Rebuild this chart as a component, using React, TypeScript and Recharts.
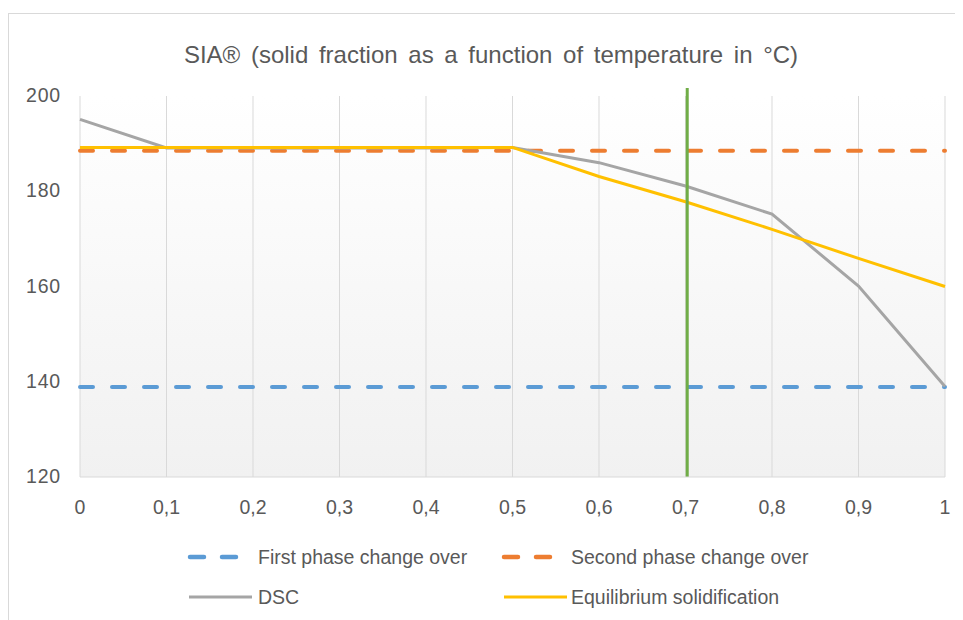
import React from 'react';
import { LineChart, Line, XAxis, YAxis, CartesianGrid, ReferenceLine } from 'recharts';

const xTicks = [0, 0.1, 0.2, 0.3, 0.4, 0.5, 0.6, 0.7, 0.8, 0.9, 1];
const yTicks = [120, 140, 160, 180, 200];

const firstPhaseX = [0, 1];
const firstPhaseY = [138.9, 138.9];
const secondPhaseX = [0, 1];
const secondPhaseY = [188.5, 188.5];

const dscX = [0, 0.1, 0.2, 0.3, 0.4, 0.5, 0.6, 0.7, 0.8, 0.9, 1];
const dscY = [195.1, 189.1, 189.1, 189.1, 189.1, 189.2, 186, 181.1, 175.2, 160.1, 139];

const eqX = [0, 0.1, 0.2, 0.3, 0.4, 0.5, 0.6, 0.7, 0.8, 0.9, 1];
const eqY = [189.2, 189.2, 189.2, 189.2, 189.2, 189.2, 183.1, 177.8, 172, 165.9, 160];

const markerX = 0.702;
const markerYBottom = 120;
const markerYTop = 201.7;

const title = 'SIA® (solid fraction as a function of temperature in °C)';
const legendNames = ['First phase change over', 'Second phase change over', 'DSC', 'Equilibrium solidification'];

const toPts = (xs: number[], ys: number[]) => xs.map((x, i) => ({ x, y: ys[i] }));

const FONT = '"Liberation Sans", Arial, sans-serif';
const TXT = '#595959';

const COLORS = {
  first: '#5b9bd5',
  second: '#ed7d31',
  dsc: '#a5a5a5',
  eq: '#ffc000',
  marker: '#70ad47',
};

const XTick = (props: any) => {
  const { x, y, payload } = props;
  return (
    <text x={x} y={y + 6} textAnchor="middle" dominantBaseline="central" fill={TXT} fontSize={19.5} fontFamily={FONT}>
      {String(payload.value).replace('.', ',')}
    </text>
  );
};

const YTick = (props: any) => {
  const { x, y, payload } = props;
  return (
    <text x={x} y={y - 1} textAnchor="end" dominantBaseline="central" fill={TXT} fontSize={19.5} fontFamily={FONT} letterSpacing={0.8}>
      {payload.value}
    </text>
  );
};

export default function App() {
  return (
    <div style={{ position: 'relative', width: 955, height: 612, fontFamily: FONT }}>
      <div
        style={{
          position: 'absolute',
          left: 0,
          top: 5,
          width: 954,
          height: 606,
          borderTop: '1px solid #d9d9d9',
          borderLeft: '1px solid #d9d9d9',
        }}
      />
      <LineChart
        width={955}
        height={612}
        margin={{ top: 88, right: 18, bottom: 113, left: 12 }}
        style={{ position: 'absolute', left: 0, top: 0 }}
      >
        <defs>
          <linearGradient id="plotBg" x1="0" y1="0" x2="0" y2="1">
            <stop offset="0%" stopColor="#ffffff" />
            <stop offset="100%" stopColor="#f1f1f1" />
          </linearGradient>
        </defs>
        <CartesianGrid horizontal={false} vertical={true} stroke="#d9d9d9" fill="url(#plotBg)" />
        <XAxis
          type="number"
          dataKey="x"
          domain={[0, 1]}
          ticks={xTicks}
          height={30}
          tickLine={false}
          axisLine={{ stroke: '#d9d9d9' }}
          tickSize={6}
          tickMargin={18}
          tick={<XTick />}
          allowDuplicatedCategory={false}
        />
        <YAxis
          type="number"
          domain={[120, 200]}
          ticks={yTicks}
          width={60}
          tickLine={false}
          axisLine={false}
          tickSize={6}
          tickMargin={13}
          tick={<YTick />}
        />
        <Line
          data={toPts(firstPhaseX, firstPhaseY)}
          dataKey="y"
          stroke={COLORS.first}
          strokeWidth={4}
          strokeDasharray="13 19"
          strokeLinecap="round"
          dot={false}
          isAnimationActive={false}
        />
        <Line
          data={toPts(secondPhaseX, secondPhaseY)}
          dataKey="y"
          stroke={COLORS.second}
          strokeWidth={4}
          strokeDasharray="13 19"
          strokeLinecap="round"
          dot={false}
          isAnimationActive={false}
        />
        <Line
          data={toPts(dscX, dscY)}
          dataKey="y"
          stroke={COLORS.dsc}
          strokeWidth={3}
          dot={false}
          isAnimationActive={false}
        />
        <Line
          data={toPts(eqX, eqY)}
          dataKey="y"
          stroke={COLORS.eq}
          strokeWidth={3}
          dot={false}
          isAnimationActive={false}
        />
        <ReferenceLine
          segment={[
            { x: markerX, y: markerYBottom },
            { x: markerX, y: markerYTop },
          ]}
          stroke={COLORS.marker}
          strokeWidth={3}
          ifOverflow="visible"
        />
      </LineChart>
      <svg
        width={955}
        height={612}
        style={{ position: 'absolute', left: 0, top: 0, pointerEvents: 'none' }}
      >
        <text x={483} y={46} textAnchor="middle" dominantBaseline="central" fill={TXT} fontSize={24} fontFamily={FONT} style={{ wordSpacing: 4 }}>
          {title}
        </text>
        {/* legend row 1 */}
        <line x1={182} y1={549} x2={228} y2={549} stroke={COLORS.first} strokeWidth={4.5} strokeDasharray="14 18" strokeLinecap="round" />
        <text x={250} y={549} dominantBaseline="central" fill={TXT} fontSize={19.5} fontFamily={FONT}>{legendNames[0]}</text>
        <line x1={496} y1={549} x2={542} y2={549} stroke={COLORS.second} strokeWidth={4.5} strokeDasharray="14 18" strokeLinecap="round" />
        <text x={563} y={549} dominantBaseline="central" fill={TXT} fontSize={19.5} fontFamily={FONT}>{legendNames[1]}</text>
        {/* legend row 2 */}
        <line x1={181} y1={589} x2={244} y2={589} stroke={COLORS.dsc} strokeWidth={3} />
        <text x={250} y={589} dominantBaseline="central" fill={TXT} fontSize={19.5} fontFamily={FONT}>{legendNames[2]}</text>
        <line x1={496} y1={589} x2={559} y2={589} stroke={COLORS.eq} strokeWidth={3} />
        <text x={563} y={589} dominantBaseline="central" fill={TXT} fontSize={19.5} fontFamily={FONT}>{legendNames[3]}</text>
      </svg>
    </div>
  );
}
